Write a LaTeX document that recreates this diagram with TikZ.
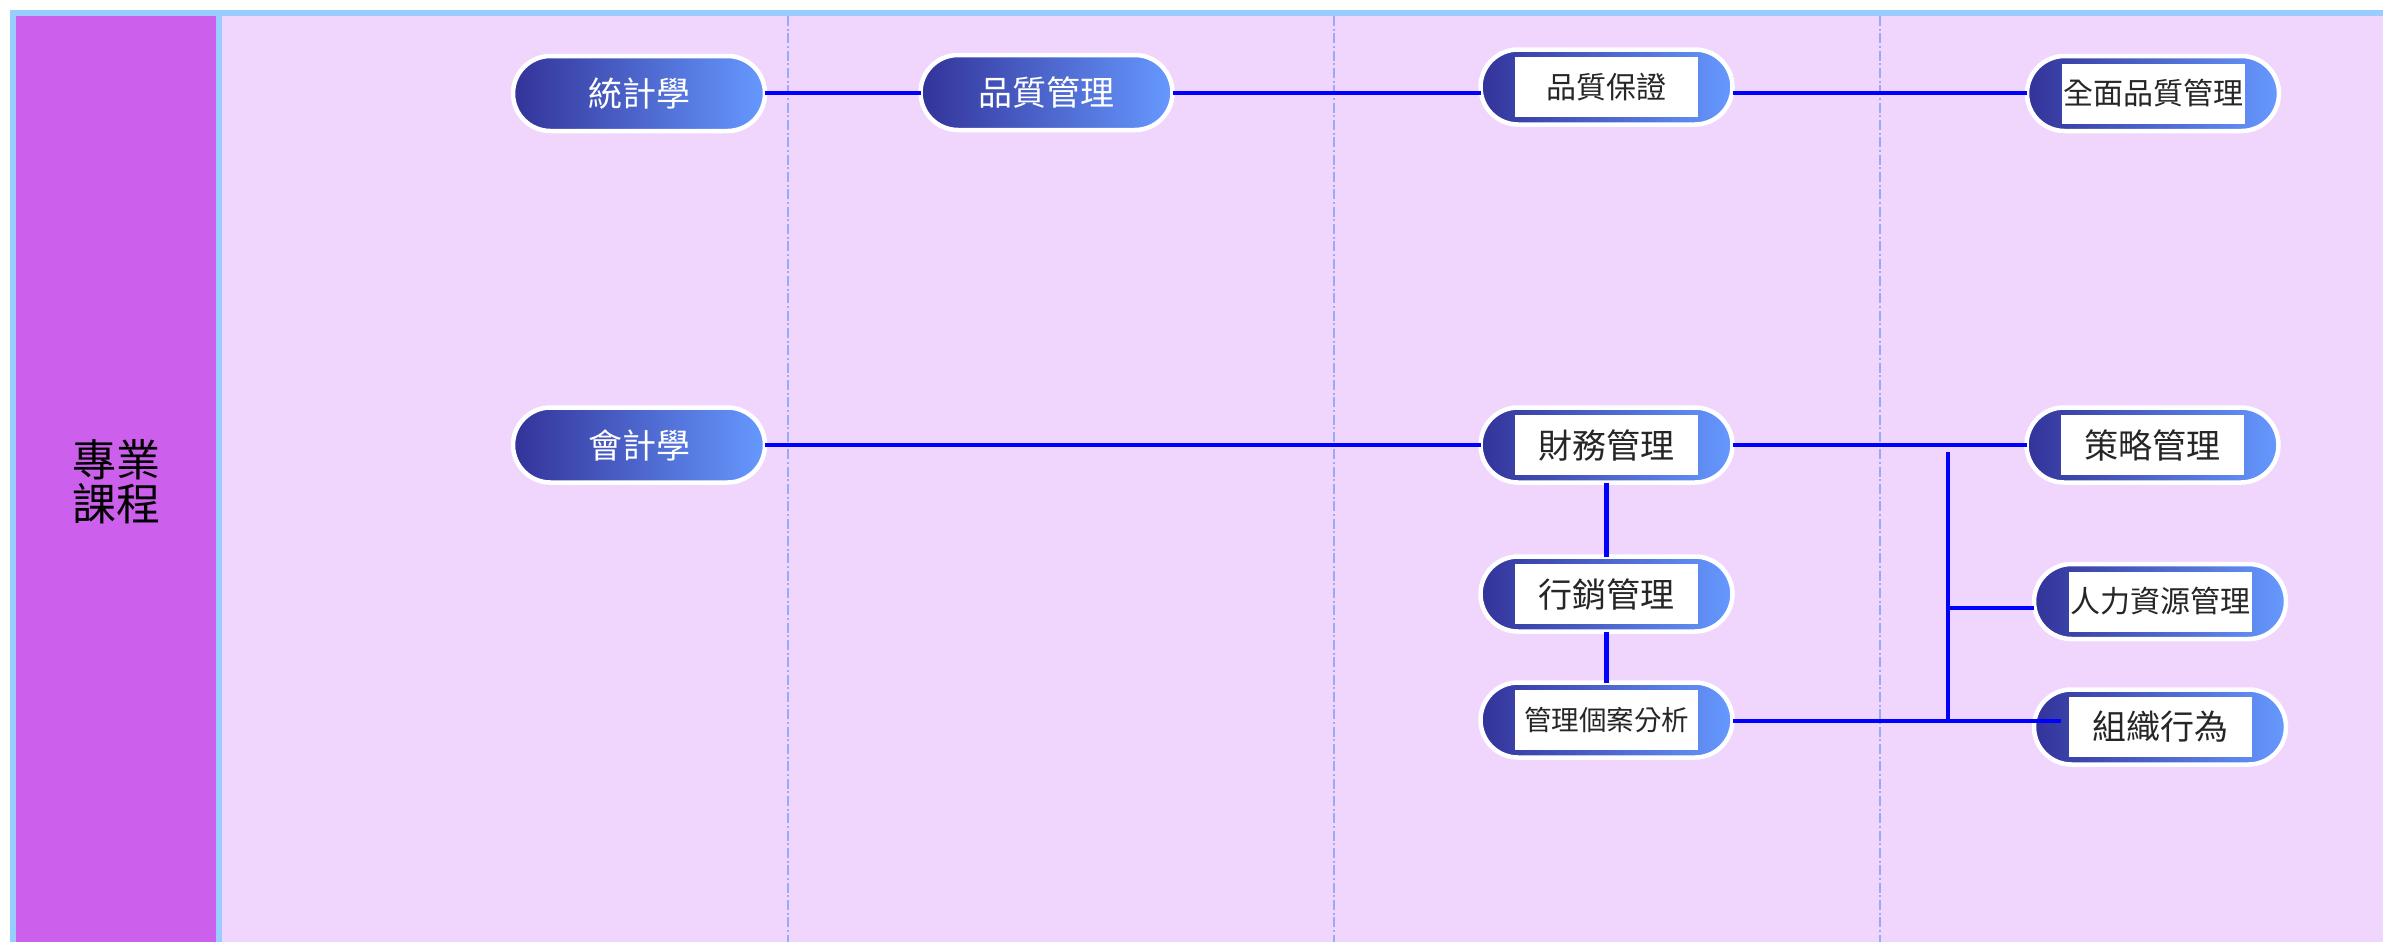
\documentclass[tikz,border=0pt]{standalone}
\usepackage{fontspec}
\newfontfamily\cjk{Noto Sans CJK TC}
\definecolor{frameblue}{HTML}{99CCFF}
\definecolor{headpurple}{HTML}{CC5FEB}
\definecolor{lanepink}{HTML}{F0D5FC}
\definecolor{dashc}{HTML}{99AAF8}
\definecolor{linkblue}{HTML}{0000FF}
\definecolor{pillL}{HTML}{333399}
\definecolor{pillR}{HTML}{6699FF}
\begin{document}
\begin{tikzpicture}[x=0.3pt,y=-0.3pt,
  pill/.style={rounded corners=11.25pt, minimum width=75.6pt, minimum height=22.5pt,
    draw=white, line width=1.35pt, left color=pillL, right color=pillR, inner sep=0pt, outer sep=0pt},
  pilltext/.style={text=white, font=\cjk\fontsize{10.2pt}{12pt}\selectfont},
  inbox/.style={fill=white, minimum width=54.9pt, minimum height=18pt, inner sep=0pt,
    text=black!85, font=\cjk\fontsize{10.2pt}{12pt}\selectfont},
  mid/.style={font=\cjk\fontsize{9pt}{10pt}\selectfont},
  small/.style={font=\cjk\fontsize{8.25pt}{10pt}\selectfont},
  link/.style={draw=linkblue, line width=1.45pt},
  lane/.style={draw=dashc, line width=0.45pt, dash pattern=on 3pt off 0.8pt on 0.6pt off 0.8pt}
]
\useasboundingbox (0,0) rectangle (2383,942);
% frame and lanes
\fill[frameblue] (10,10) rectangle (2383,942);
\fill[headpurple] (16,16) rectangle (216,942);
\fill[lanepink] (222,16) rectangle (2383,942);
\draw[lane] (788,16) -- (788,942);
\draw[lane] (1334,16) -- (1334,942);
\draw[lane] (1880,16) -- (1880,942);
\node[font=\cjk\fontsize{13.2pt}{13.2pt}\selectfont, align=center, text=black] (hd) at (116,482) {專業\\課程};
% row 1
\node[pill, pilltext] (tj) at (639,93.5) {統計學};
\node[pill, pilltext] (pz) at (1046.5,92.5) {品質管理};
\node[pill] (pb) at (1606.5,87) {};
\node[inbox, mid] (pbt) at (pb) {品質保證};
\node[pill] (qm) at (2153,93.5) {};
\node[inbox, mid] (qmt) at (qm) {全面品質管理};
% row 2
\node[pill, pilltext] (kj) at (639,445) {會計學};
\node[pill] (cw) at (1606.5,445) {};
\node[inbox] (cwt) at (cw) {財務管理};
\node[pill] (cl) at (2152.5,445) {};
\node[inbox] (clt) at (cl) {策略管理};
\node[pill] (xx) at (1606.5,594) {};
\node[inbox] (xxt) at (xx) {行銷管理};
\node[pill] (ga) at (1606.5,720) {};
\node[inbox, small] (gat) at (ga) {管理個案分析};
\node[pill] (hr) at (2160,601.5) {};
\node[inbox, mid] (hrt) at (hr) {人力資源管理};
\node[pill] (zz) at (2160,727) {};
\node[inbox] (zzt) at (zz) {組織行為};
% connectors
\draw[link] (tj.east |- 0,93) -- (pz.west |- 0,93);
\draw[link] (pz.east |- 0,93) -- (pb.west |- 0,93);
\draw[link] (pb.east |- 0,93) -- (qm.west |- 0,93);
\draw[link] (kj.east) -- (cw.west);
\draw[link] (cw.east) -- (cl.west);
\draw[link] (cw.south) -- (xx.north);
\draw[link] (xx.south) -- (ga.north);
\coordinate (bt) at (1948,452);
\coordinate (bm) at (1948,608);
\coordinate (bb) at (1948,721);
\draw[link] (bt) -- (bb);
\draw[link] (bm) -- (bm -| hr.west);
\draw[link] (ga.east |- bb) -- ([xshift=-2pt]zzt.west |- bb);
\end{tikzpicture}
\end{document}
